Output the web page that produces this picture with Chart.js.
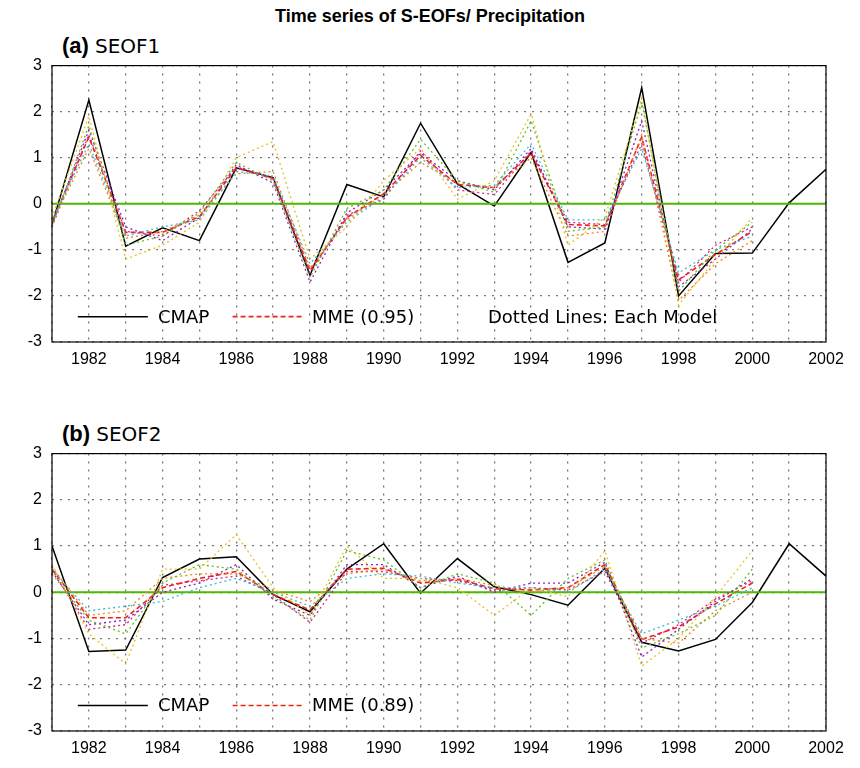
<!DOCTYPE html>
<html><head><meta charset="utf-8">
<script src="https://cdn.jsdelivr.net/npm/chart.js@4"></script>
<style>
body{margin:0;width:860px;height:768px;background:#fff;font-family:"Liberation Sans",Arial,sans-serif;position:relative;overflow:hidden}
.t{position:absolute;white-space:nowrap}
.box{position:absolute;left:0;width:860px}
.mono{font-family:"DejaVu Sans",sans-serif;font-size:18px}
</style></head><body>
<div class="t" style="left:0;width:860px;text-align:center;top:6px;font-size:18px;font-weight:bold">Time series of S-EOFs/ Precipitation</div>
<div class="t" style="left:62px;top:33px;font-size:22px"><b>(a)</b> <span class="mono" style="font-size:20px">SEOF1</span></div>
<div class="t" style="left:62px;top:421px;font-size:22px"><b>(b)</b> <span class="mono" style="font-size:20px">SEOF2</span></div>
<div class="box" style="top:46px;height:326px"><canvas id="c1"></canvas></div>
<div class="box" style="top:434px;height:327px"><canvas id="c2"></canvas></div>
<div class="t mono" style="left:158px;top:306px">CMAP</div>
<div class="t mono" style="left:312px;top:306px">MME (0.95)</div>
<div class="t mono" style="left:488px;top:306px">Dotted Lines: Each Model</div>
<div class="t mono" style="left:158px;top:694px">CMAP</div>
<div class="t mono" style="left:312px;top:694px">MME (0.89)</div>
<script>
const years = [1981,1982,1983,1984,1985,1986,1987,1988,1989,1990,1991,1992,1993,1994,1995,1996,1997,1998,1999,2000,2001,2002];
const tickYears = [1982,1984,1986,1988,1990,1992,1994,1996,1998,2000,2002];
const cmap1 = [-0.45,2.25,-0.92,-0.52,-0.8,0.78,0.57,-1.55,0.42,0.15,1.75,0.43,-0.05,1.12,-1.27,-0.85,2.52,-2.0,-1.08,-1.07,0.02,0.75];
const mme1 = [-0.4,1.45,-0.62,-0.62,-0.28,0.78,0.55,-1.45,-0.3,0.22,1.05,0.42,0.35,1.1,-0.45,-0.48,1.45,-1.65,-1.1,-0.6];
const models1 = [
  [-0.3,1.9,-1.2,-0.9,-0.4,1.0,1.35,-1.2,-0.5,0.5,1.2,0.1,0.5,1.95,-0.9,-0.3,2.3,-2.2,-1.2,-0.3],
  [-0.5,1.7,-0.9,-0.7,-0.2,0.9,0.5,-1.6,-0.1,0.3,1.4,0.5,0.25,1.8,-0.6,-0.5,2.2,-1.9,-1.0,-0.4],
  [-0.35,1.3,-0.7,-0.5,-0.35,0.7,0.6,-1.3,-0.4,0.15,1.0,0.35,0.4,1.3,-0.35,-0.35,1.2,-1.5,-1.0,-0.7],
  [-0.45,1.6,-0.5,-0.8,-0.3,0.85,0.45,-1.7,-0.2,0.3,1.1,0.5,0.3,1.2,-0.5,-0.55,1.8,-1.8,-1.2,-0.55],
  [-0.4,1.2,-0.75,-0.6,-0.25,0.65,0.7,-1.4,-0.35,0.2,0.9,0.45,0.35,1.0,-0.7,-0.6,1.5,-2.1,-1.3,-0.8],
  [-0.5,1.5,-0.6,-0.7,-0.15,0.8,0.55,-1.5,-0.25,0.1,1.15,0.3,0.2,1.15,-0.4,-0.45,1.3,-1.7,-0.9,-0.5]
];
const cmap2 = [1.0,-1.28,-1.25,0.32,0.72,0.77,-0.05,-0.42,0.5,1.05,-0.02,0.73,0.12,-0.05,-0.28,0.52,-1.08,-1.27,-1.02,-0.22,1.05,0.35];
const mme2 = [0.5,-0.55,-0.55,0.1,0.3,0.45,-0.05,-0.38,0.5,0.52,0.2,0.28,0.08,0.05,0.1,0.6,-1.02,-0.75,-0.25,0.2];
const models2 = [
  [0.6,-0.9,-1.55,0.5,0.5,1.25,0.1,-0.5,1.0,0.3,0.3,0.1,-0.5,0.1,-0.1,0.9,-1.6,-1.0,-0.1,0.9],
  [0.4,-0.6,-0.9,0.2,0.6,0.5,-0.1,-0.6,0.9,0.7,0.1,0.4,0.2,-0.5,0.3,0.7,-1.2,-0.9,-0.5,0.5],
  [0.5,-0.4,-0.3,-0.2,0.1,0.3,0.0,-0.3,0.3,0.4,0.35,0.2,0.1,0.1,0.0,0.5,-0.9,-0.6,-0.3,0.1],
  [0.45,-0.7,-0.6,0.0,0.2,0.6,-0.15,-0.5,0.6,0.6,0.1,0.35,0.0,0.2,0.2,0.65,-1.4,-0.8,-0.2,0.3],
  [0.55,-0.5,-0.4,0.3,0.4,0.4,0.05,-0.2,0.4,0.5,0.25,0.3,0.15,0.0,0.1,0.55,-1.0,-1.1,-0.4,0.0],
  [0.5,-0.8,-0.7,0.15,0.25,0.35,-0.05,-0.65,0.45,0.45,0.3,0.25,0.05,0.1,0.05,0.45,-1.1,-0.7,-0.15,0.25]
];
const modelColors = ['#e8c020','#60c020','#30c0d0','#9020c0','#f08020','#e02080'];
const yTicks = [-3,-2,-1,0,1,2,3];

function pts(v){ return v.map((y,i)=>({x:years[i],y:y})); }

function makeChart(id, cmap, mme, models){
  const ds = [];
  models.forEach((m,k)=>ds.push({data:pts(m),borderColor:modelColors[k],borderWidth:1.3,borderDash:[2,3],pointRadius:0,tension:0}));
  ds.push({data:[{x:1981,y:0},{x:2002,y:0}],borderColor:'#4db800',borderWidth:2,pointRadius:0});
  ds.push({data:pts(mme),borderColor:'#ee2211',borderWidth:1.6,borderDash:[5,3],pointRadius:0});
  ds.push({data:pts(cmap),borderColor:'#000',borderWidth:1.5,pointRadius:0});
  // legend sample lines
  ds.push({data:[{x:1981.7,y:-2.45},{x:1983.6,y:-2.45}],borderColor:'#000',borderWidth:1.5,pointRadius:0});
  ds.push({data:[{x:1985.9,y:-2.45},{x:1987.8,y:-2.45}],borderColor:'#ee2211',borderWidth:1.6,borderDash:[5,3],pointRadius:0});
  new Chart(document.getElementById(id),{
    type:'line',
    data:{datasets:ds},
    options:{
      responsive:true,maintainAspectRatio:false,animation:false,
      layout:{padding:{top:4,right:34,left:0,bottom:0}},
      plugins:{legend:{display:false},tooltip:{enabled:false}},
      scales:{
        x:{type:'linear',min:1981,max:2002,
          afterFit:a=>{a.height=30;},
          afterBuildTicks:a=>{a.ticks=years.map(v=>({value:v}));},
          border:{display:false,dash:[2,6]},
          grid:{color:'#777',lineWidth:1.3,drawTicks:false},
          ticks:{color:'#000',font:{size:16,family:'Liberation Sans'},padding:8,maxRotation:0,autoSkip:false,
            callback:v=>tickYears.includes(v)?String(v):''}},
        y:{min:-3,max:3,
          afterFit:a=>{a.width=52;},
          afterBuildTicks:a=>{a.ticks=yTicks.map(v=>({value:v}));},
          border:{display:false,dash:[2,6]},
          grid:{color:'#777',lineWidth:1.3,drawTicks:false},
          ticks:{color:'#000',font:{size:16,family:'Liberation Sans'},padding:10}}
      }
    },
    plugins:[{id:'frame',afterDraw(c){
      const a=c.chartArea,x=c.ctx;x.save();x.strokeStyle='#000';x.lineWidth=1.2;x.strokeRect(a.left,a.top,a.right-a.left,a.bottom-a.top);x.restore();
    }}]
  });
}
Chart.defaults.elements.line.borderCapStyle='butt';
makeChart('c1',cmap1,mme1,models1);
makeChart('c2',cmap2,mme2,models2);
</script>
</body></html>
